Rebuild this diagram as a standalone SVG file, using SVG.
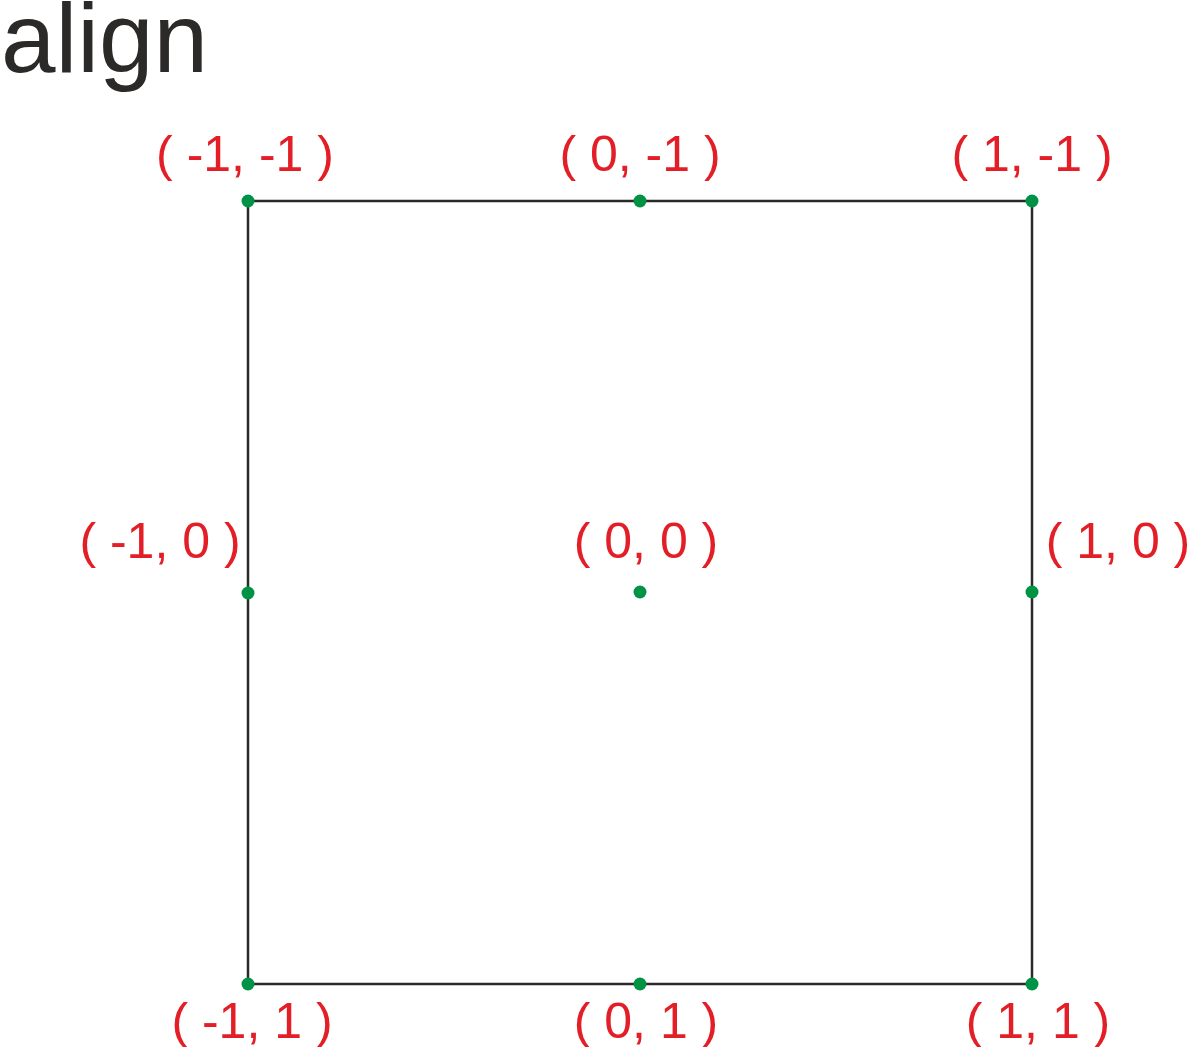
<svg xmlns="http://www.w3.org/2000/svg" width="1190" height="1047" viewBox="0 0 1190 1047">
<style>
.title{font-family:"Liberation Sans",Arial,sans-serif;font-size:98px;fill:#2b2a29}
.lbl{font-family:"Liberation Sans",Arial,sans-serif;font-size:50px;fill:#e31e26;text-anchor:middle}
.dot{fill:#009245}
.edge{stroke:#2b2a29;stroke-width:2.5;fill:none}
</style>
<rect width="1190" height="1047" fill="#ffffff"/>
<text class="title" x="1" y="72">align</text>
<g id="connectors">
<rect class="edge" x="248" y="201" width="784" height="783"/>
</g>
<g id="n-m1m1"><circle class="dot" cx="248" cy="201" r="6.5"/><text class="lbl" x="245" y="171">( -1, -1 )</text></g>
<g id="n-0m1"><circle class="dot" cx="640" cy="201" r="6.5"/><text class="lbl" x="640" y="171">( 0, -1 )</text></g>
<g id="n-1m1"><circle class="dot" cx="1032" cy="201" r="6.5"/><text class="lbl" x="1032" y="171">( 1, -1 )</text></g>
<g id="n-m10"><circle class="dot" cx="248" cy="593" r="6.5"/><text class="lbl" x="160" y="558">( -1, 0 )</text></g>
<g id="n-00"><circle class="dot" cx="640" cy="592" r="6.5"/><text class="lbl" x="646" y="558">( 0, 0 )</text></g>
<g id="n-10"><circle class="dot" cx="1032" cy="592" r="6.5"/><text class="lbl" x="1118" y="558">( 1, 0 )</text></g>
<g id="n-m11"><circle class="dot" cx="248" cy="984" r="6.5"/><text class="lbl" x="252" y="1038">( -1, 1 )</text></g>
<g id="n-01"><circle class="dot" cx="640" cy="984" r="6.5"/><text class="lbl" x="646" y="1038">( 0, 1 )</text></g>
<g id="n-11"><circle class="dot" cx="1032" cy="984" r="6.5"/><text class="lbl" x="1038" y="1038">( 1, 1 )</text></g>
</svg>
